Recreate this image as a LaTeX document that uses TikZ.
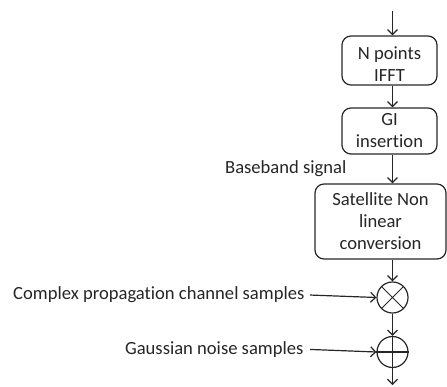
\documentclass[tikz,border=0pt]{standalone}
\usepackage{fontspec}
\setmainfont{Carlito}[Ligatures=NoCommon]
\usetikzlibrary{arrows.meta}
\begin{document}
\begin{tikzpicture}[x=1pt,y=-1pt, line width=1.2pt, draw=black!85,
  every node/.style={font=\fontsize{18.6}{22}\selectfont, text=black!85, inner sep=0pt},
  blockbox/.style={draw, rounded corners=9pt, align=center},
  arr/.style={-{Straight Barb[length=5pt,width=10pt]}},
  circ/.style={draw, circle, minimum size=31pt}]
\useasboundingbox (0,0) rectangle (447,386);
\node[circ] (mul) at (392.5,297.5) {};
\node[circ] (add) at (392.5,352) {};
\coordinate (in) at (392.5,11);
\coordinate (out) at (392.5,385);
\node[blockbox, minimum width=95pt, minimum height=49pt] (ifft) at (389.5,60.5) {};
\node[align=center] (ifftlabel) at ([yshift=-3.5pt]ifft.center) {N points\\IFFT};
\node[blockbox, minimum width=95pt, minimum height=46pt] (gi) at (389.5,131) {GI\\insertion};
\node[blockbox, minimum width=131pt, minimum height=75pt] (sat) at (380.5,221.5) {Satellite Non\\linear\\conversion};
\node[anchor=base east] (bb) at (347,173) {Baseband signal};
\node[anchor=mid east] (cp) at (305,297.5) {Complex propagation channel samples};
\node[anchor=mid east] (gn) at (304,352) {Gaussian noise samples};
\draw[line width=1pt] (mul.north west) -- (mul.south east) (mul.north east) -- (mul.south west);
\draw (add.west) -- (add.east);
\draw[arr] (in) -- (in |- ifft.north);
\draw[arr] (ifft.south -| mul) -- (gi.north -| mul);
\draw[arr] (gi.south -| mul) -- (sat.north -| mul);
\draw[arr] (sat.south -| mul) -- (mul.north);
\draw[arr] (mul.south) -- (add.north);
\draw[arr] (add.north) -- (out);
\draw[arr] ([xshift=5pt]cp.east) -- (mul.west);
\draw[arr] ([xshift=6pt]gn.east) -- (add.west);
\end{tikzpicture}
\end{document}
